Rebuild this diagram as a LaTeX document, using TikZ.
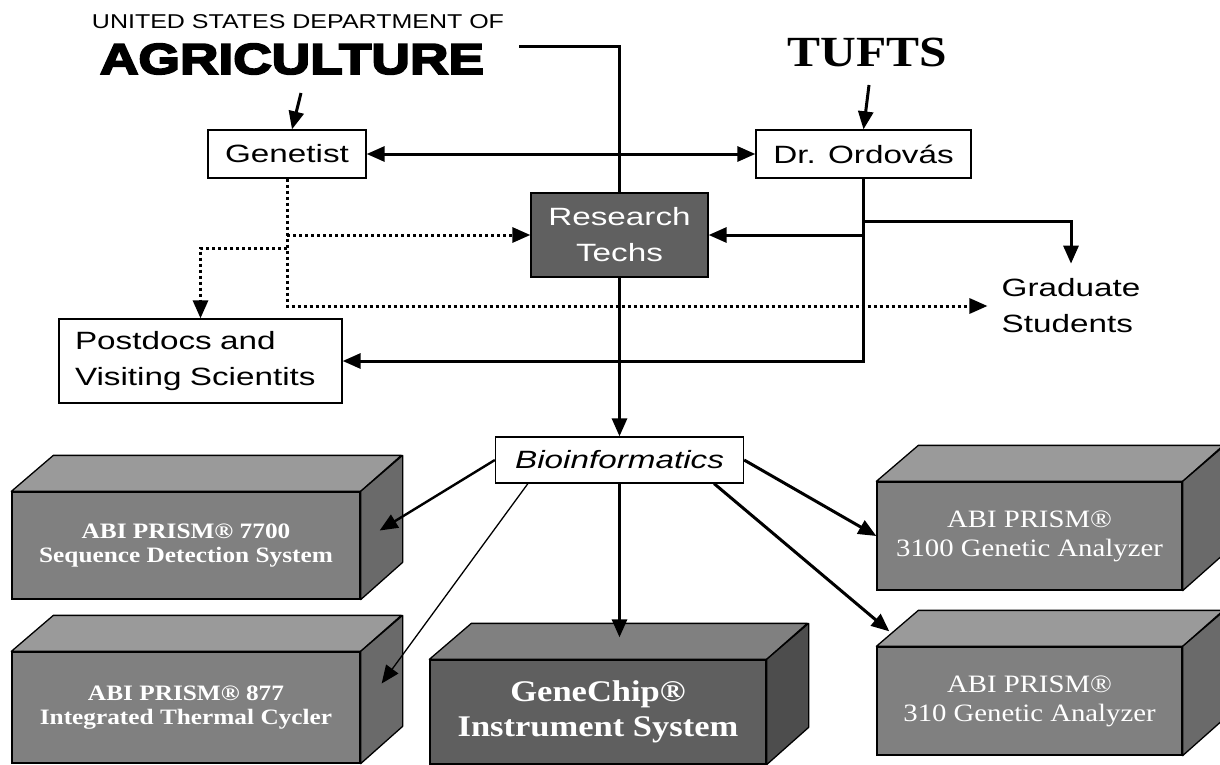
\documentclass[tikz,border=0pt]{standalone}
\usepackage{fontspec}
\setmainfont[FakeStretch=1.33]{Liberation Sans}
\newfontfamily\agencyfont[FakeStretch=1.25]{Liberation Sans}
\newfontfamily\heavyfont[FakeStretch=1.24,FakeBold=4.5]{Liberation Sans Bold}
\newfontfamily\labserif[FakeStretch=1.15]{Liberation Serif}
\usepackage{xcolor}
\usetikzlibrary{arrows.meta}

\definecolor{techgray}{HTML}{606060}
\definecolor{abifront}{HTML}{808080}
\definecolor{abitop}{HTML}{9A9A9A}
\definecolor{abiside}{HTML}{6A6A6A}
\definecolor{chipfront}{HTML}{5F5F5F}
\definecolor{chiptopgray}{HTML}{808080}
\definecolor{chipside}{HTML}{4D4D4D}

\begin{document}
\begin{tikzpicture}[x=1pt, y=-1pt,
    font=\fontsize{25}{36}\selectfont,
    person/.style={draw, fill=white, line width=1.3pt, inner sep=0pt},
    link/.style={line width=3pt},
    arrow/.style={line width=3pt, -{Triangle[length=18pt,width=15pt]}},
    dotarrow/.style={line width=3pt, dash pattern=on 3pt off 3pt, -{Triangle[length=18pt,width=15pt]}},
    machine/.style={draw, line width=1.3pt, fill=abifront, text=white, inner sep=0pt, align=center},
    topface/.style={draw, line width=1.3pt, fill=abitop, line join=round},
    sideface/.style={draw, line width=1.3pt, fill=abiside, line join=round}]
    \clip (0,0) rectangle (1220,765);
    \fill[white] (0,0) rectangle (1220,765);

    % Headers
    \node (usda) at (298,22) {\agencyfont\fontsize{20}{20}\selectfont UNITED STATES DEPARTMENT OF};
    \node (agri) at (292,59) {\heavyfont\fontsize{43}{43}\selectfont AGRICULTURE};
    \node (tufts) at (867,52) {\labserif\bfseries\fontsize{43}{43}\selectfont TUFTS};

    % People
    \node[person, minimum width=158pt, minimum height=48pt] (genetist) at (287,154) {Genetist};
    \node[person, minimum width=215pt, minimum height=48pt] (ordovas) at (863.5,154) {Dr. Ordovás};
    \node[person, fill=techgray, text=white, align=center, minimum width=177pt, minimum height=84pt] (techs) at (619.5,235) {Research\\Techs};
    \node[person, align=left, text width=251pt, minimum width=283pt, minimum height=84pt] (postdocs) at (200.5,361) {Postdocs and\\Visiting Scientits};
    \node[inner xsep=14pt, inner ysep=2pt, align=left] (grad) at (1071,306) {Graduate\\Students};
    \node[person, minimum width=248pt, minimum height=46pt] (bioinf) at (619.5,460) {\itshape Bioinformatics};

    % Instruments
    \node[machine, minimum width=348pt, minimum height=107pt, font=\labserif\bfseries\fontsize{22}{24}\selectfont] (seq) at (186,545.5) {ABI PRISM® 7700\\Sequence Detection System};
    \draw[topface] (seq.north west) -- ++(42,-36) -- ++(348,0) -- (seq.north east) -- cycle;
    \draw[sideface] (seq.north east) -- ++(42,-36) -- ++(0,107) -- (seq.south east) -- cycle;

    \node[machine, minimum width=348pt, minimum height=111pt, font=\labserif\bfseries\fontsize{22}{24}\selectfont] (cyc) at (186,707.5) {ABI PRISM® 877\\Integrated Thermal Cycler};
    \draw[topface] (cyc.north west) -- ++(42,-36) -- ++(348,0) -- (cyc.north east) -- cycle;
    \draw[sideface] (cyc.north east) -- ++(42,-36) -- ++(0,111) -- (cyc.south east) -- cycle;

    \node[machine, fill=chipfront, minimum width=336pt, minimum height=104pt, font=\labserif\bfseries\fontsize{30}{35}\selectfont] (chip) at (598,712) {GeneChip®\\Instrument System};
    \draw[topface, fill=chiptopgray] (chip.north west) -- ++(42,-36) -- ++(336,0) -- (chip.north east) -- cycle;
    \draw[sideface, fill=chipside] (chip.north east) -- ++(42,-36) -- ++(0,104) -- (chip.south east) -- cycle;

    \node[machine, minimum width=305pt, minimum height=108pt, font=\labserif\fontsize{25}{29}\selectfont] (ana) at (1029.5,536) {ABI PRISM®\\3100 Genetic Analyzer};
    \draw[topface] (ana.north west) -- ++(42,-36) -- ++(305,0) -- (ana.north east) -- cycle;
    \draw[sideface] (ana.north east) -- ++(42,-36) -- ++(0,108) -- (ana.south east) -- cycle;

    \node[machine, minimum width=305pt, minimum height=108pt, font=\labserif\fontsize{25}{29}\selectfont] (gen) at (1029.5,701) {ABI PRISM®\\310 Genetic Analyzer};
    \draw[topface] (gen.north west) -- ++(42,-36) -- ++(305,0) -- (gen.north east) -- cycle;
    \draw[sideface] (gen.north east) -- ++(42,-36) -- ++(0,108) -- (gen.south east) -- cycle;

    % Free ends and bends
    \coordinate (agritail) at (301,93);
    \coordinate (tuftstail) at (869,85);
    \coordinate (agriend) at (519,47);
    \coordinate (gradsplit) at (863,221);
    \coordinate (dotsplit) at (287,248);
    \coordinate (chiparrow) at ([yshift=22pt]chip.north);

    % Solid connectors
    \draw[arrow] (agritail) -- ([xshift=5pt]genetist.north);
    \draw[arrow] (tuftstail) -- (ordovas.north);
    \draw[arrow, {Triangle[length=18pt,width=15pt]}-{Triangle[length=18pt,width=15pt]}] (genetist) -- (ordovas);
    \draw[link] (agriend) -| (techs.north);
    \draw[arrow] (techs.south) -- (bioinf.north);
    \draw[arrow] (ordovas.south) |- (postdocs.east);
    \draw[arrow] (ordovas.south |- techs.east) -- (techs.east);
    \draw[arrow] (gradsplit) -| ([yshift=13pt]grad.north);

    % Dotted connectors
    \draw[dotarrow] (genetist.south) |- (grad.west);
    \draw[dotarrow] (genetist.south |- techs.west) -- (techs.west);
    \draw[dotarrow] (dotsplit) -| (postdocs.north);

    % Bioinformatics to instruments
    \draw[arrow, line width=2.4pt] (bioinf.west) -- ([xshift=19pt,yshift=15pt]seq.east);
    \draw[arrow, line width=1.3pt] ([xshift=33pt]bioinf.south west) -- ([xshift=21pt,yshift=24pt]cyc.east);
    \draw[arrow] (bioinf.south) -- (bioinf.south |- chiparrow);
    \draw[arrow] (bioinf.east) -- (ana.west);
    \draw[arrow] ([xshift=-30pt]bioinf.south east) -- ([xshift=13pt,yshift=15pt]gen.north west);
\end{tikzpicture}
\end{document}
